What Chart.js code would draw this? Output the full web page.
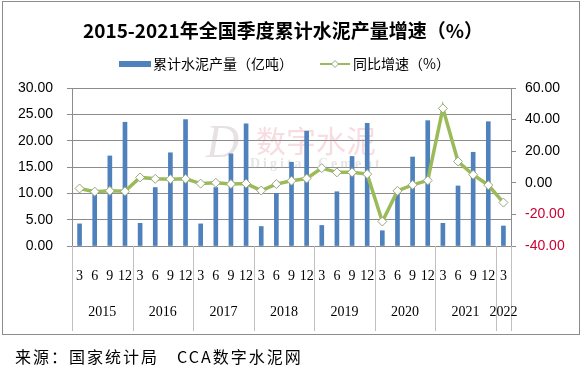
<!DOCTYPE html>
<html>
<head>
<meta charset="utf-8">
<script src="https://cdn.jsdelivr.net/npm/chart.js@4"></script>
<style>
    body { margin: 0; background: #fff; }
</style>
</head>
<body>
<canvas id="myChart" width="585" height="372"></canvas>
<script>
// quarter months on the axis, grouped by year
const quarters = ['3', '6', '9', '12', '3', '6', '9', '12', '3', '6', '9', '12', '3', '6', '9', '12',
    '3', '6', '9', '12', '3', '6', '9', '12', '3', '6', '9', '12', '3'];
const years = ['2015', '2016', '2017', '2018', '2019', '2020', '2021', '2022'];

// cumulative cement output (亿吨)
const output = [4.2, 10.0, 17.1, 23.5, 4.3, 11.1, 17.7, 24.0, 4.2, 11.1, 17.5, 23.2, 3.7, 10.0, 15.9, 21.8,
    3.9, 10.3, 17.0, 23.3, 2.9, 10.0, 16.9, 23.8, 4.3, 11.4, 17.8, 23.6, 3.8];
// year-on-year growth (%)
const growth = [-3.6, -5.6, -5.1, -5.4, 3.4, 2.5, 2.3, 2.5, -0.5, 0.0, -0.8, -0.5, -4.9, -0.8, 1.3, 2.7,
    9.3, 6.6, 6.6, 5.5, -24.5, -5.1, -1.3, 1.5, 47.1, 13.5, 5.1, -1.5, -12.5];

const leftTicks = [0, 5, 10, 15, 20, 25, 30];
const rightTicks = [-40, -20, 0, 20, 40, 60];

const barColor = '#4F81BD';
const lineColor = '#9BBB59';
const gridColor = '#8c8c8c';

const decor = {
    id: 'decor',
    beforeDraw(chart) {
        const ctx = chart.ctx;
        ctx.save();
        ctx.fillStyle = '#fff';
        ctx.fillRect(0, 0, chart.width, chart.height);
        ctx.strokeStyle = '#8c8c8c';
        ctx.lineWidth = 1;
        ctx.strokeRect(2.5, 1.5, 577, 333);
        ctx.restore();
    },
    beforeDatasetsDraw(chart) {
        // faint watermark
        const ctx = chart.ctx;
        ctx.save();
        ctx.textBaseline = 'middle';
        ctx.fillStyle = 'rgba(190, 170, 175, 0.35)';
        ctx.font = 'italic 46px "Liberation Serif"';
        ctx.fillText('D', 206, 145);
        ctx.fillStyle = 'rgba(225, 120, 140, 0.25)';
        ctx.font = '30px "Noto Sans CJK SC"';
        ctx.fillText('数字水泥', 256, 141);
        ctx.fillStyle = 'rgba(170, 170, 170, 0.3)';
        ctx.font = 'bold 14px "Liberation Serif"';
        ctx.letterSpacing = '3px';
        ctx.fillText('Digital Cement', 250, 164);
        ctx.restore();
    },
    afterDraw(chart) {
        const ctx = chart.ctx;
        const x = chart.scales.x;
        const area = chart.chartArea;
        ctx.save();

        // title
        ctx.fillStyle = '#000';
        ctx.textAlign = 'center';
        ctx.textBaseline = 'middle';
        ctx.font = 'bold 19px "Noto Sans CJK SC"';
        ctx.fillText('2015-2021年全国季度累计水泥产量增速（%）', 283, 31);

        // legend
        ctx.textAlign = 'left';
        ctx.font = '14px "Noto Sans CJK SC"';
        ctx.fillStyle = barColor;
        ctx.fillRect(119, 61, 32, 6);
        ctx.fillStyle = '#000';
        ctx.fillText('累计水泥产量（亿吨）', 153, 64);
        ctx.strokeStyle = lineColor;
        ctx.lineWidth = 2;
        ctx.beginPath();
        ctx.moveTo(320, 64);
        ctx.lineTo(350, 64);
        ctx.stroke();
        ctx.fillStyle = '#fff';
        ctx.strokeStyle = '#9aa77f';
        ctx.lineWidth = 1;
        ctx.beginPath();
        ctx.moveTo(335, 60.5);
        ctx.lineTo(338.5, 64);
        ctx.lineTo(335, 67.5);
        ctx.lineTo(331.5, 64);
        ctx.closePath();
        ctx.fill();
        ctx.stroke();
        ctx.fillStyle = '#000';
        ctx.fillText('同比增速（%）', 353, 64);

        // year groups under the quarter labels
        const bounds = [area.left];
        for (let i = 4; i < quarters.length; i += 4) {
            bounds.push((x.getPixelForValue(i - 1) + x.getPixelForValue(i)) / 2);
        }
        bounds.push(area.right);
        ctx.strokeStyle = '#c0c0c0';
        ctx.lineWidth = 1;
        bounds.forEach(b => {
            const bx = Math.round(b) + 0.5;
            ctx.beginPath();
            ctx.moveTo(bx, area.bottom);
            ctx.lineTo(bx, 331);
            ctx.stroke();
        });
        ctx.font = '14px "Liberation Serif"';
        ctx.textAlign = 'center';
        ctx.fillStyle = '#000';
        years.forEach((yr, i) => {
            ctx.fillText(yr, (bounds[i] + bounds[i + 1]) / 2, 312);
        });

        // source note
        ctx.textAlign = 'left';
        ctx.font = '16px "Noto Sans CJK SC"';
        ctx.letterSpacing = '2px';
        ctx.fillText('来源：国家统计局　CCA数字水泥网', 15, 357);
        ctx.restore();
    }
};

const ctx = document.getElementById('myChart').getContext('2d');
new Chart(ctx, {
    type: 'bar',
    data: {
        labels: quarters,
        datasets: [{
            type: 'line',
            label: '同比增速（%）',
            data: growth,
            yAxisID: 'y1',
            borderColor: lineColor,
            borderWidth: 3.5,
            pointStyle: 'rectRot',
            pointRadius: 4.5,
            pointBackgroundColor: '#fff',
            pointBorderColor: '#9aa77f',
            pointBorderWidth: 1,
            tension: 0,
            order: 0
        },
        {
            label: '累计水泥产量（亿吨）',
            data: output,
            yAxisID: 'y',
            backgroundColor: barColor,
            barThickness: 4,
            order: 1
        }]
    },
    options: {
        responsive: false,
        animation: false,
        layout: { padding: { top: 88, bottom: 86, left: 0, right: 0 } },
        plugins: {
            legend: { display: false },
            title: { display: false },
            tooltip: { enabled: false }
        },
        scales: {
            x: {
                offset: true,
                grid: { display: false },
                border: { display: true, color: gridColor },
                ticks: {
                    autoSkip: false,
                    maxRotation: 0,
                    padding: 14,
                    color: '#000',
                    font: { family: 'Liberation Serif', size: 14 }
                },
                afterFit(scale) { scale.height = 40; }
            },
            y: {
                position: 'left',
                min: leftTicks[0],
                max: leftTicks[leftTicks.length - 1],
                ticks: {
                    stepSize: leftTicks[1] - leftTicks[0],
                    padding: 14,
                    color: '#000',
                    font: { family: 'Liberation Sans', size: 14 },
                    callback: v => v.toFixed(2)
                },
                grid: { color: gridColor, tickLength: 5 },
                border: { color: gridColor },
                afterFit(scale) { scale.width = 72; }
            },
            y1: {
                position: 'right',
                min: rightTicks[0],
                max: rightTicks[rightTicks.length - 1],
                ticks: {
                    stepSize: rightTicks[1] - rightTicks[0],
                    padding: 9,
                    color: c => c.tick.value < 0 ? '#cc0033' : '#000',
                    font: { family: 'Liberation Sans', size: 14 },
                    callback: v => v.toFixed(2)
                },
                grid: { drawOnChartArea: false, color: gridColor, tickLength: 5 },
                border: { color: gridColor },
                afterFit(scale) { scale.width = 74; }
            }
        }
    },
    plugins: [decor]
});
</script>
</body>
</html>
